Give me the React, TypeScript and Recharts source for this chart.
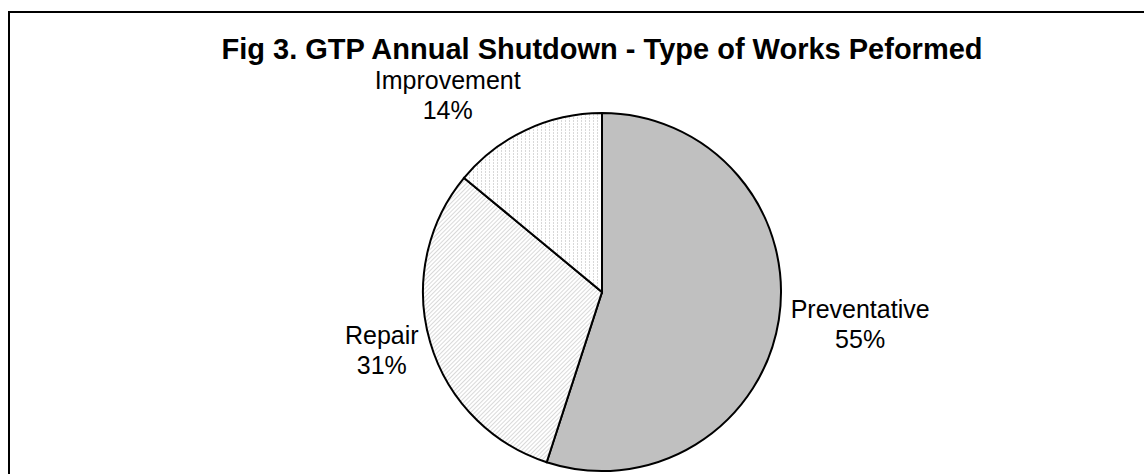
import { PieChart, Pie, Cell } from 'recharts';

const categories = ['Preventative', 'Repair', 'Improvement'];
const shares = [55, 31, 14];
const fills = ['#c0c0c0', 'url(#hatchRepair)', 'url(#dotsImprovement)'];
const title = 'Fig 3. GTP Annual Shutdown - Type of Works Peformed';

const data = categories.map((name, i) => ({ name, value: shares[i] }));

const FONT = "'Liberation Sans', Arial, Helvetica, sans-serif";
const LABEL_SIZE = 25;
const RADIAN = Math.PI / 180;

let ctx: CanvasRenderingContext2D | null = null;
const measure = (txt: string) => {
  if (!ctx) ctx = document.createElement('canvas').getContext('2d');
  if (!ctx) return txt.length * LABEL_SIZE * 0.55;
  ctx.font = `${LABEL_SIZE}px ${FONT}`;
  return ctx.measureText(txt).width;
};

// label block sits just outside the rim, pushed sideways by half its width
const renderLabel = (props: any) => {
  const { cx, cy, midAngle, outerRadius, percent, name } = props;
  const cos = Math.cos(-midAngle * RADIAN);
  const sin = Math.sin(-midAngle * RADIAN);
  const px = cx + (outerRadius + 12) * cos;
  const py = cy + (outerRadius + 12) * sin;
  const pct = `${Math.round(percent * 100)}%`;
  const w = Math.max(measure(name), measure(pct));
  const bx = px + (cos >= 0 ? 1 : -1) * w / 2;
  const by = py + sin * 25 - 2;
  return (
    <text x={bx} textAnchor="middle" fontFamily={FONT} fontSize={LABEL_SIZE} fill="#000">
      <tspan x={bx} y={by - 6}>{name}</tspan>
      <tspan x={bx} y={by + 24}>{pct}</tspan>
    </text>
  );
};

export default function App() {
  return (
    <div style={{ position: 'fixed', left: 0, top: 0, width: 1144, height: 474, overflow: 'hidden', background: '#fff' }}>
      <svg width={0} height={0} style={{ position: 'absolute' }}>
        <defs>
          <pattern id="hatchRepair" width={3} height={3} patternUnits="userSpaceOnUse" patternTransform="rotate(45)">
            <rect width={3} height={3} fill="#fff" />
            <line x1={0} y1={0} x2={0} y2={3} stroke="#b4b4b4" strokeWidth={1} />
          </pattern>
          <pattern id="dotsImprovement" width={4} height={3} patternUnits="userSpaceOnUse">
            <rect width={4} height={3} fill="#fff" />
            <rect x={1} y={0} width={1} height={2} fill="#d8d8d8" />
          </pattern>
        </defs>
      </svg>
      <div style={{ position: 'absolute', left: 8, top: 11, width: 1300, height: 700, borderTop: '2px solid #000', borderLeft: '2px solid #000' }} />
      <svg width={1144} height={80} style={{ position: 'absolute', left: 0, top: 0 }}>
        <text x={602} y={59} textAnchor="middle" fontFamily={FONT} fontSize={29} fontWeight="bold" fill="#000">{title}</text>
      </svg>
      <div style={{ position: 'absolute', left: 0, top: 0 }}>
        <PieChart width={1144} height={474} margin={{ top: 0, right: 0, bottom: 0, left: 0 }}>
          <Pie
            data={data}
            dataKey="value"
            nameKey="name"
            cx={602}
            cy={292}
            outerRadius={179}
            startAngle={90}
            endAngle={-270}
            stroke="#000"
            strokeWidth={2}
            label={renderLabel}
            labelLine={false}
            isAnimationActive={false}
          >
            {data.map((d, i) => (
              <Cell key={d.name} fill={fills[i]} />
            ))}
          </Pie>
        </PieChart>
      </div>
    </div>
  );
}
